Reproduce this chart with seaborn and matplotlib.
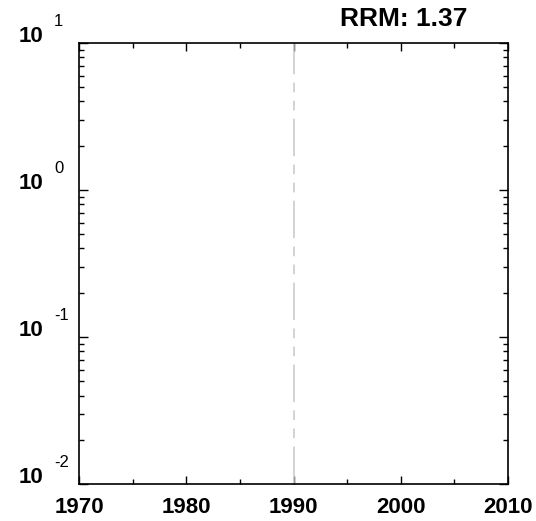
import matplotlib
matplotlib.use("Agg")
import matplotlib.pyplot as plt
import seaborn as sns
import pandas as pd
from matplotlib.ticker import MultipleLocator, LogLocator, NullFormatter

# ==============================
#            Data
# ==============================
title_text = "RRM: 1.37"
x_limits = [1970, 2010]
x_ticks = [1970, 1980, 1990, 2000, 2010]
y_exponents = [-2, -1, 0, 1]
marker_year = [1990, 1990]
marker_span = [1e-2, 1e1]

# ==============================
#            Style
# ==============================
sns.set_style("ticks")
plt.rcParams['font.family'] = ['Liberation Sans', 'DejaVu Sans']
plt.rcParams['lines.scale_dashes'] = False
plt.rcParams['text.color'] = 'black'
plt.rcParams['xtick.color'] = 'black'
plt.rcParams['ytick.color'] = 'black'

fig = plt.figure(figsize=(5.36, 5.21), dpi=100)
ax = fig.add_axes([0.1474, 0.0710, 0.8004, 0.8465])

# reference line at 1990
marker_df = pd.DataFrame({'year': marker_year, 'value': marker_span})
sns.lineplot(data=marker_df, x='year', y='value', estimator=None, sort=False,
             color='#c8c8c8', linewidth=1.1, ax=ax,
             linestyle=(0, (27, 6, 7, 6, 7, 6)))

ax.set_yscale('log')
ax.set_xlim(*x_limits)
ax.set_ylim(10.0 ** y_exponents[0], 10.0 ** y_exponents[-1])
ax.set_xlabel('')
ax.set_ylabel('')

# ticks
ax.set_xticks(x_ticks)
ax.set_xticklabels([str(t) for t in x_ticks], fontweight='bold', fontsize=16,
                   color='black')
ax.xaxis.set_minor_locator(MultipleLocator(5))
ax.set_yticks([10.0 ** e for e in y_exponents])
ax.yaxis.set_minor_locator(LogLocator(base=10, subs=range(2, 10)))
ax.yaxis.set_major_formatter(NullFormatter())
ax.yaxis.set_minor_formatter(NullFormatter())
ax.tick_params(which='both', direction='in', top=True, right=True,
               width=1.0, color='black')
ax.tick_params(axis='x', which='major', length=6, pad=9)
ax.tick_params(axis='x', which='minor', length=3.8)
ax.tick_params(axis='y', which='major', length=6.5)
ax.tick_params(axis='y', which='minor', length=3.5)

for s in ax.spines.values():
    s.set_linewidth(1.2)
    s.set_color('black')

# y labels as 10 with raised exponent
for e in y_exponents:
    ax.annotate('10', xy=(0, 10.0 ** e), xycoords=('axes fraction', 'data'),
                xytext=(-26, 5), textcoords='offset points',
                ha='right', va='center', fontsize=16, fontweight='bold',
                color='black')
    ax.annotate(str(e), xy=(0, 10.0 ** e), xycoords=('axes fraction', 'data'),
                xytext=(-18, 15.5), textcoords='offset points',
                ha='left', va='center', fontsize=12, color='black')

# title
ax.annotate(title_text, xy=(1, 1), xycoords='axes fraction',
            xytext=(-29.5, 17), textcoords='offset points',
            ha='right', va='center', fontsize=19, fontweight='bold',
            color='black')

fig.savefig('out.png', dpi=100)
